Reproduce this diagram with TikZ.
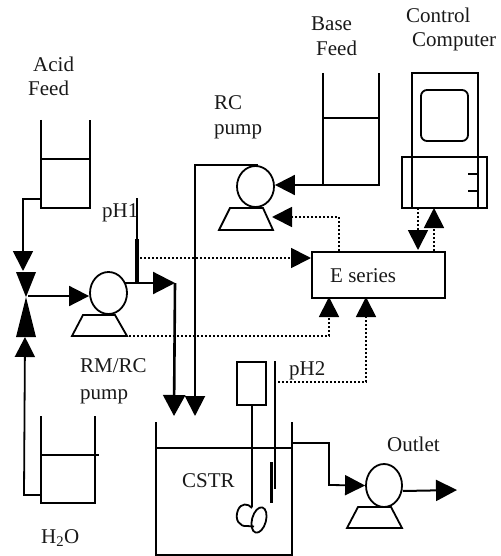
\documentclass[tikz,border=0pt]{standalone}
\usepackage{fontspec}
\setmainfont{Liberation Serif}
\usetikzlibrary{arrows.meta,shapes.geometric}
\tikzset{
  line/.style={line width=1.8pt},
  pipe/.style={line width=1.8pt,-{Triangle[length=20pt,width=20pt]}},
  thickpipe/.style={line width=2.6pt,-{Triangle[length=21pt,width=22pt]}},
  signal/.style={line width=1.8pt,dash pattern=on 1.8pt off 2.2pt,-{Triangle[length=20pt,width=20pt]}},
  label/.style={anchor=base west,inner sep=0pt,font=\fontsize{21pt}{21pt}\selectfont,text=black!90},
  pumphead/.style={ellipse,draw,line width=1.8pt,inner sep=0pt,minimum width=#1},
  ebox/.style={draw,line width=1.8pt,minimum width=133pt,minimum height=46pt,inner sep=0pt}
}
\begin{document}
\begin{tikzpicture}[x=1pt,y=-1pt]
\useasboundingbox (0,0) rectangle (500,556);
% text labels
\node[label] (acid) at (33,72) {Acid};
\node[label] (acidf) at (28,96) {Feed};
\node[label] (base) at (311,31) {Base};
\node[label] (basef) at (316,56) {Feed};
\node[label] (ctrl) at (406,23) {Control};
\node[label] (comp) at (412,47) {Computer};
\node[label] (rc) at (214,110) {RC};
\node[label] (rcp) at (214,135) {pump};
\node[label] (ph1) at (102,217) {pH1};
\node[label] (rm) at (80,372) {RM/RC};
\node[label] (rmp) at (80,399) {pump};
\node[label] (water) at (41,543) {H\textsubscript{2}O};
\node[label] (cstr) at (182,487) {CSTR};
\node[label] (ph2) at (289,375) {pH2};
\node[label] (outl) at (387,451) {Outlet};
% E series box
\node[ebox,anchor=north west] (es) at (311,251) {};
\node[label] (estext) at (330,282) {E series};
% acid tank
\draw[line] (41,120) -- (41,208) -- (90,208) -- (90,120) (41,159) -- (90,159);
% water tank
\draw[line] (41,416) -- (41,503) -- (95,503) -- (95,416) (41,455) -- (99,455);
% base tank
\draw[line] (323,73) -- (323,185) -- (379,185) -- (379,73) (323,118) -- (379,118);
% pumps
\node[pumphead=37pt,minimum height=42pt] (p1) at (108.5,293) {};
\draw[line] (83,315) -- (115,315) -- (127,336) -- (72,336) -- cycle;
\node[pumphead=37pt,minimum height=41pt] (p2) at (255.5,186.5) {};
\draw[line] (230,208) -- (263,208) -- (273,230) -- (219,230) -- cycle;
\node[pumphead=36pt,minimum height=43pt] (p3) at (384,485.5) {};
\draw[line] (358,507) -- (391,507) -- (402,528) -- (347,528) -- cycle;
% valve
\coordinate (vc) at (26,297);
\fill (16,272) -- (36,272) -- (vc) -- cycle;
\fill (16,337) -- (36,337) -- (vc) -- cycle;
% pipes to the valve
\draw[pipe] (41,199) -- (23,199) -- (23,271);
\draw[pipe] (41,495) -- (24,495) -- (25,337);
\draw[pipe] (vc) ++(2,-1) -- (p1.west |- 0,296);
% acid pump out
\coordinate (p1out) at (125,283);
\coordinate (bend) at (175,283);
\draw[line width=2.2pt,-{Triangle[length=22pt,width=22pt]}] (p1out) -- (bend);
\draw[thickpipe] (bend) -- (174,416);
% RC line
\draw[line width=2pt,-{Triangle[length=20pt,width=20pt]}] (258,165.5) -- (195,165.5) -- (195,416);
% base feed
\draw[pipe] (323,185) -- (p2.east |- 0,185);
% pH1 probe
\draw[line] (137,198) -- (137,240);
\draw[line width=4pt] (137,239) -- (137,282);
% signals
\draw[signal] (140,258) -- (es.west |- 0,258);
\draw[signal] (129,336) -- (329,336) -- (329,297);
\draw[signal] (274,382) -- (366,382) -- (366,297);
\draw[signal] (339,251) -- (339,217) -- (272,217);
\draw[signal] (418,208) -- (418,250);
\draw[signal] (434,251) -- (434,208);
% computer
\draw[line] (412,208) -- (412,73) -- (478,73) -- (478,208);
\draw[line] (402,157) rectangle (487,208);
\draw[line,rounded corners=6pt] (421,90) rectangle (468,141);
\draw[line] (468,174) -- (478,174) (468,191) -- (478,191);
% CSTR
\draw[line] (156,422) -- (156,555) -- (292,555) -- (292,422);
\draw[line] (155,448) -- (292,448);
\draw[line] (237,362) rectangle (266,405);
\draw[line] (252,405) -- (252,507);
\draw[line] (275,361) -- (275,489);
\draw[line width=3.6pt] (271.5,462) -- (271.5,503);
\draw[line] (252,508) .. controls (248,503) and (241,503) .. (238,510) .. controls (234,520) and (240,527) .. (247,526) -- (254,526.5);
\draw[line,rotate around={-15:(259,520)}] (259,520) ellipse (7pt and 13pt);
% outlet
\draw[pipe] (292,443) -- (329,443) -- (329,485) -- (p3.west);
\draw[line width=2pt,-{Triangle[length=21pt,width=21pt]}] (p3.east |- 0,491) -- (457,490);
\end{tikzpicture}
\end{document}
